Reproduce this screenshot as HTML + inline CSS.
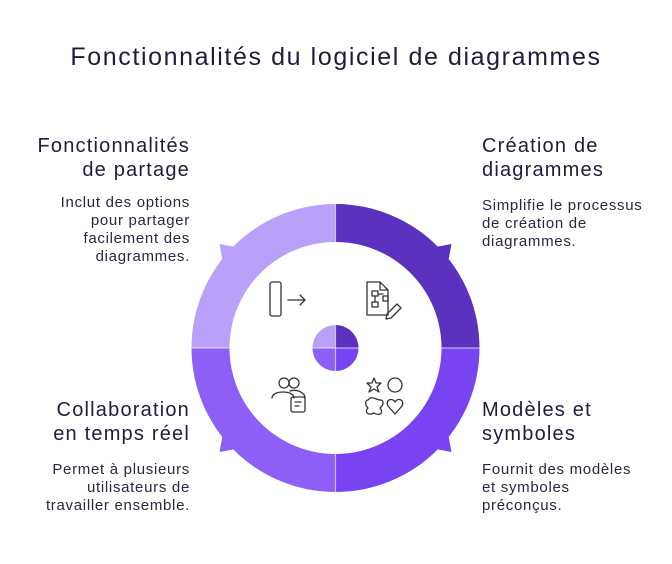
<!DOCTYPE html>
<html><head><meta charset="utf-8"><style>
body{margin:0;width:672px;height:564px;background:#fff;font-family:"Liberation Sans",sans-serif;color:#1f1d3d;position:relative;overflow:hidden}
.t{position:absolute;white-space:nowrap}
h1{position:absolute;top:43px;left:0;width:672px;text-align:center;font-size:25px;letter-spacing:1.6px;font-weight:normal;margin:0;color:#1f1d3d}
.h{font-size:20px;line-height:24px;letter-spacing:1.2px}
.b{font-size:15px;line-height:18px;color:#2a2840;letter-spacing:.7px}
.r{text-align:right}
</style></head><body>
<h1>Fonctionnalités du logiciel de diagrammes</h1>
<div class="t h r" style="right:482px;top:134px">Fonctionnalités<br>de partage</div>
<div class="t b r" style="right:482px;top:194px">Inclut des options<br>pour partager<br>facilement des<br>diagrammes.</div>
<div class="t h" style="left:482px;top:134px">Création de<br>diagrammes</div>
<div class="t b" style="left:482px;top:197px">Simplifie le processus<br>de création de<br>diagrammes.</div>
<div class="t h r" style="right:482px;top:398px">Collaboration<br>en temps réel</div>
<div class="t b r" style="right:482px;top:461px">Permet à plusieurs<br>utilisateurs de<br>travailler ensemble.</div>
<div class="t h" style="left:482px;top:398px">Modèles et<br>symboles</div>
<div class="t b" style="left:482px;top:461px">Fournit des modèles<br>et symboles<br>préconçus.</div>
<svg width="672" height="564" style="position:absolute;left:0;top:0">
<g transform="translate(335.5,348)">
<path d="M0,-144 A144,144 0 0 1 144,0 L106,0 A106,106 0 0 0 0,-106Z" fill="#5b31bf"/>
<path d="M144,0 A144,144 0 0 1 0,144 L0,106 A106,106 0 0 0 106,0Z" fill="#7843f1"/>
<path d="M0,144 A144,144 0 0 1 -144,0 L-106,0 A106,106 0 0 0 0,106Z" fill="#8e5ff6"/>
<path d="M-144,0 A144,144 0 0 1 0,-144 L0,-106 A106,106 0 0 0 -106,0Z" fill="#b9a0f9"/>
<polygon points="-116,-104 -113,-88 -100,-101" fill="#b9a0f9"/>
<polygon points="116,-104 113,-88 100,-101" fill="#5b31bf"/>
<polygon points="116,104 113,88 100,101" fill="#7843f1"/>
<polygon points="-116,104 -113,88 -100,101" fill="#8e5ff6"/>
<path d="M0,0 L0,-23 A23,23 0 0 1 23,0Z" fill="#5b31bf"/>
<path d="M0,0 L23,0 A23,23 0 0 1 0,23Z" fill="#7843f1"/>
<path d="M0,0 L0,23 A23,23 0 0 1 -23,0Z" fill="#8e5ff6"/>
<path d="M0,0 L-23,0 A23,23 0 0 1 0,-23Z" fill="#b9a0f9"/>
<line x1="-150" y1="0" x2="150" y2="0" stroke="#fff" stroke-width="1.2" opacity=".6"/>
<line x1="0" y1="-150" x2="0" y2="150" stroke="#fff" stroke-width="1.2" opacity=".6"/>
</g>
<g fill="none" stroke="#333" stroke-width="1.3" stroke-linecap="round" stroke-linejoin="round">
<rect x="270" y="282" width="11" height="34" rx="2"/>
<path d="M288,300 H305 M300,295 L305,300 L300,305"/>
<path d="M367,282 H380 L388,290 V315 H367Z M380,282 V290 H388"/>
<rect x="372" y="291" width="6" height="5"/><rect x="372" y="302" width="6" height="5"/><rect x="383" y="296" width="5" height="5"/>
<path d="M378,294 H383 M375,296 V302"/>
<path d="M387,314 L397,304 L401,308 L391,318 L386,319Z"/>
<circle cx="284" cy="383" r="5"/><circle cx="294" cy="383" r="5"/>
<path d="M272,398 C272,390 294,390 294,398 M290,391 C296,389 305,392 305,398"/>
<rect x="291" y="397" width="14" height="15" rx="2"/><path d="M295,402 H301 M295,406 H299"/>
<path d="M374,378 L376,383 L381,383 L377,387 L379,392 L374,389 L369,392 L371,387 L367,383 L372,383Z"/>
<circle cx="395" cy="385" r="7"/>
<path d="M368,400 C372,395 376,400 380,400 C384,400 384,405 380,408 C384,412 380,417 374,413 C368,416 364,412 368,408 C364,404 366,400 368,400Z"/>
<path d="M395,414 L388,406 C385,400 392,397 395,402 C398,397 405,400 402,406Z"/>
</g>
</svg>
</body></html>
